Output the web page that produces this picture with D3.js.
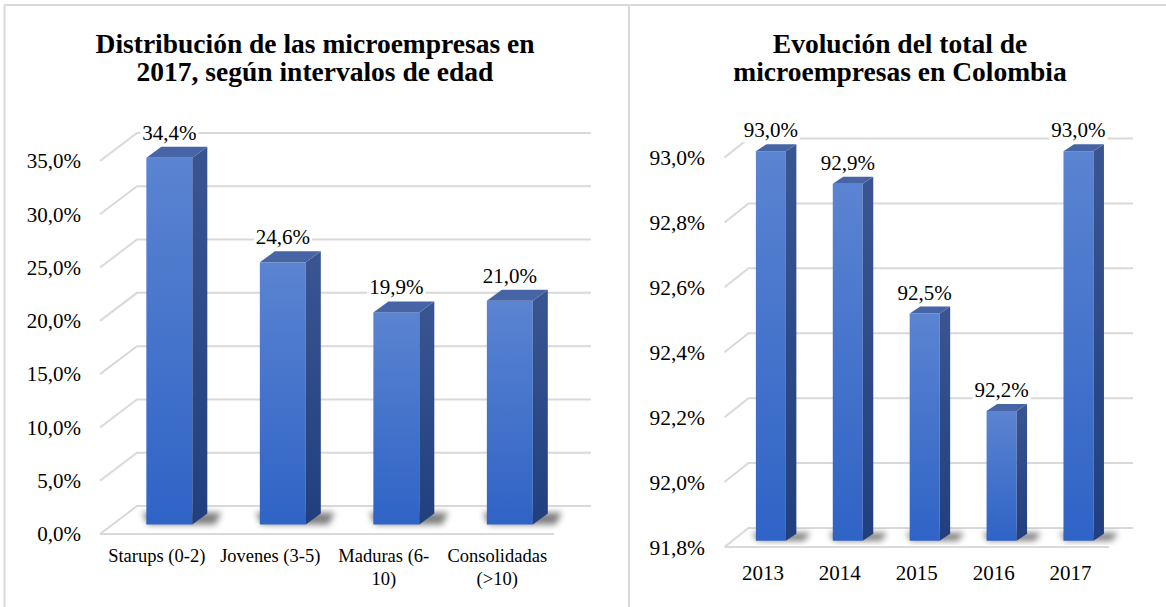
<!DOCTYPE html>
<html>
<head>
<meta charset="utf-8">
<script src="https://d3js.org/d3.v7.min.js"></script>
<style>
  body { margin: 0; background: #fff; }
  svg text { font-family: "Liberation Serif", "Times New Roman", serif; fill: #000; }
</style>
</head>
<body>
<svg id="mainSvg" width="1166" height="607" font-family="Liberation Serif, serif"></svg>
<script>
// Chart 1: distribution by age interval (2017)
var edadTitle = ["Distribución de las microempresas en", "2017, según intervalos de edad"];
var edadCats = ["Starups (0-2)", "Jovenes (3-5)", "Maduras (6-\n10)", "Consolidadas\n(>10)"];
var edadVals = [34.4, 24.6, 19.9, 21.0];
var edadTicks = [0, 5, 10, 15, 20, 25, 30, 35];

// Chart 2: total microenterprises per year
var anosTitle = ["Evolución del total de", "microempresas en Colombia"];
var anosCats = ["2013", "2014", "2015", "2016", "2017"];
var anosVals = [93.0, 92.9, 92.5, 92.2, 93.0];
var anosTicks = [91.8, 92.0, 92.2, 92.4, 92.6, 92.8, 93.0];

var svg = d3.select("#mainSvg");
var serif = "'Liberation Serif', 'Times New Roman', serif";

function fmt(v) { return d3.format(".1f")(v).replace(".", ",") + "%"; }

// gradients + shadow filter
var defs = svg.append("defs");
var gFront = defs.append("linearGradient").attr("id", "gFront").attr("x1", 0).attr("y1", 0).attr("x2", 0).attr("y2", 1);
gFront.append("stop").attr("offset", "0%").attr("stop-color", "#5b84d1");
gFront.append("stop").attr("offset", "100%").attr("stop-color", "#2f63c6");
var gSide = defs.append("linearGradient").attr("id", "gSide").attr("x1", 0).attr("y1", 0).attr("x2", 0).attr("y2", 1);
gSide.append("stop").attr("offset", "0%").attr("stop-color", "#3a5592");
gSide.append("stop").attr("offset", "100%").attr("stop-color", "#213f7e");
defs.append("filter").attr("id", "blur").attr("x", "-50%").attr("y", "-50%").attr("width", "200%").attr("height", "200%")
  .append("feGaussianBlur").attr("stdDeviation", 3);

// panel borders
svg.append("line").attr("x1", 4).attr("y1", 5).attr("x2", 1166).attr("y2", 5).attr("stroke", "#d9d9d9").attr("stroke-width", 2);
svg.append("line").attr("x1", 4.5).attr("y1", 5).attr("x2", 4.5).attr("y2", 607).attr("stroke", "#d9d9d9").attr("stroke-width", 2);
svg.append("line").attr("x1", 629).attr("y1", 5).attr("x2", 629).attr("y2", 607).attr("stroke", "#d9d9d9").attr("stroke-width", 2);

function drawChart(title, cats, vals, ticks, geo) {
  var g = svg.append("g").attr("font-family", serif);

  g.selectAll(".title").data(title).enter().append("text")
    .attr("x", geo.titleX).attr("y", (d, i) => 53 + i * 28)
    .attr("text-anchor", "middle").style("font-family", serif)
    .style("font-size", "27.5px").style("font-weight", "bold")
    .text(d => d);

  var x = d3.scaleBand().domain(cats).range([geo.x0, geo.x1])
    .paddingInner(geo.pad).paddingOuter(geo.pad / 2);
  var y = d3.scaleLinear().domain([ticks[0], ticks[ticks.length - 1]]).range([geo.yb, geo.yt]);
  var dx = geo.dx, dy = geo.dy;

  // 3D gridlines: stub from the front edge to the back wall, then across the wall
  g.append("g").selectAll("path").data(ticks).enter().append("path")
    .attr("d", d => "M" + geo.x0 + "," + y(d) + "L" + (geo.x0 + dx) + "," + (y(d) + dy) + "L" + (geo.x1 + dx) + "," + (y(d) + dy))
    .attr("fill", "none").attr("stroke", "#d9d9d9").attr("stroke-width", 2);
  g.append("line").attr("x1", geo.x0).attr("x2", geo.x1).attr("y1", y(ticks[0])).attr("y2", y(ticks[0]))
    .attr("stroke", "#d9d9d9").attr("stroke-width", 2);

  g.append("g").selectAll("text").data(ticks).enter().append("text")
    .attr("x", geo.labelX).attr("y", d => y(d)).attr("dy", "0.35em")
    .attr("text-anchor", "end").style("font-family", serif).style("font-size", geo.tickSize)
    .text(fmt);

  var bw = x.bandwidth(), f = geo.f0, bdx = geo.bdx, bdy = geo.bdy;
  var data = cats.map((c, i) => {
    var xl = x(c) + f * dx, xr = xl + bw;
    return { c: c, v: vals[i], xl: xl, xr: xr, bot: y(ticks[0]) + f * dy, top: y(vals[i]) + f * dy };
  });

  var bars = g.append("g").selectAll("g").data(data).enter().append("g");
  bars.append("path").attr("filter", "url(#blur)").attr("fill", "#000").attr("opacity", 0.5)
    .attr("d", d => "M" + (d.xl + 2) + "," + (d.bot) + "L" + (d.xr + bdx + 8) + "," + (d.bot) +
      "L" + (d.xr + bdx + 14) + "," + (d.bot + bdy - 1) + "L" + (d.xl - 4) + "," + (d.bot + bdy - 1) + "Z");
  bars.append("rect").attr("x", d => d.xl).attr("y", d => d.top)
    .attr("width", bw).attr("height", d => d.bot - d.top).attr("fill", "url(#gFront)");
  bars.append("path").attr("fill", "url(#gSide)")
    .attr("d", d => "M" + d.xr + "," + d.top + "L" + (d.xr + bdx) + "," + (d.top + bdy) +
      "L" + (d.xr + bdx) + "," + (d.bot + bdy) + "L" + d.xr + "," + d.bot + "Z");
  bars.append("path").attr("fill", "#4765a6")
    .attr("d", d => "M" + d.xl + "," + d.top + "L" + (d.xl + bdx) + "," + (d.top + bdy) +
      "L" + (d.xr + bdx) + "," + (d.top + bdy) + "L" + d.xr + "," + d.top + "Z");

  // value labels on a white box
  var lab = g.append("g").selectAll("g").data(data).enter().append("g");
  lab.append("rect").attr("fill", "#fff");
  lab.append("text").attr("x", d => (d.xl + d.xr) / 2).attr("y", d => d.top + bdy - 7)
    .attr("text-anchor", "middle").style("font-family", serif).style("font-size", "21px").text(d => fmt(d.v));
  lab.each(function () {
    var b = d3.select(this).select("text").node().getBBox();
    d3.select(this).select("rect").attr("x", b.x - 2).attr("y", b.y + 2).attr("width", b.width + 4).attr("height", b.height - 2);
  });

  // category labels (split on line breaks)
  var cl = g.append("g").selectAll("text").data(cats).enter().append("text")
    .attr("text-anchor", "middle").style("font-family", serif).style("font-size", geo.catSize);
  cl.selectAll("tspan").data(c => c.split("\n").map(t => ({ t: t, c: c }))).enter().append("tspan")
    .attr("x", d => x(d.c) + bw / 2).attr("y", (d, i) => geo.catY + i * 23).text(d => d.t);
}

drawChart(edadTitle, edadCats, edadVals, edadTicks, {
  titleX: 315, x0: 100, x1: 554, yb: 534, yt: 161, dx: 37, dy: -28,
  pad: 0.595, f0: 0.34, bdx: 15, bdy: -11,
  labelX: 81, tickSize: "21px", catSize: "18.5px", catY: 562
});

drawChart(anosTitle, anosCats, anosVals, anosTicks, {
  titleX: 900, x0: 724.5, x1: 1109, yb: 547, yt: 157.5, dx: 24, dy: -19,
  pad: 0.61, f0: 0.33, bdx: 10.5, bdy: -7,
  labelX: 705, tickSize: "21.5px", catSize: "21px", catY: 580
});
</script>
</body>
</html>
